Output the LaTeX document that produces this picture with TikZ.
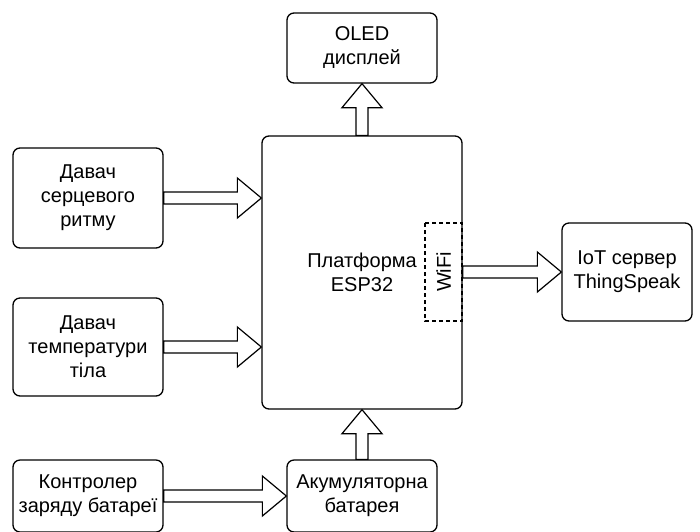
\documentclass[tikz,border=0pt]{standalone}
\usepackage{fontspec}
\setmainfont{Liberation Sans}
\usetikzlibrary{calc}

\newcommand*{\shaftw}{6pt}
\newcommand*{\headw}{20pt}
\newcommand*{\headl}{24pt}

% hollow block arrow from #1 to #2
\newcommand*{\blockarrow}[2]{%
	\coordinate (hb) at ($(#2)!\headl!(#1)$);
	\draw[fatarrow]
		($(#1)!\shaftw!90:(#2)$) -- ($(hb)!\shaftw!90:(#2)$) -- ($(hb)!\headw!90:(#2)$) -- (#2)
		-- ($(hb)!\headw!-90:(#2)$) -- ($(hb)!\shaftw!-90:(#2)$) -- ($(#1)!\shaftw!-90:(#2)$) -- cycle;%
}

\begin{document}
\begin{tikzpicture}
[
	x=1pt, y=-1pt,
	blockbox/.style={draw,rounded corners=7pt,line width=1.3pt,inner sep=0pt,align=center,
		font=\fontsize{20}{24}\selectfont},
	wifibox/.style={draw,dashed,dash pattern=on 4pt off 3pt,line width=1.1pt,inner sep=0pt,rotate=90,
		minimum width=98pt,minimum height=37pt,font=\fontsize{20}{24}\selectfont},
	fatarrow/.style={draw,fill=white,line width=1.2pt,line join=miter}
]

	\path[use as bounding box,fill=white] (0,0) rectangle (700,531);

	% blocks
	\node[blockbox,minimum width=200pt,minimum height=273pt] (esp) at (362,272.5) {Платформа\\ESP32};
	\node[blockbox,minimum width=150pt,minimum height=70pt] (oled) at (362,48) {OLED\\дисплей};
	\node[blockbox,minimum width=150pt,minimum height=100pt] (heart) at (88,198) {Давач\\серцевого\\ритму};
	\node[blockbox,minimum width=150pt,minimum height=98pt] (temp) at (88,347) {Давач\\температури\\тіла};
	\node[blockbox,minimum width=130pt,minimum height=98pt] (iot) at (627,272) {IoT сервер\\ThingSpeak};
	\node[blockbox,minimum width=150pt,minimum height=72pt] (charger) at (88,496) {Контролер\\заряду батареї};
	\node[blockbox,minimum width=150pt,minimum height=72pt] (battery) at (362,496) {Акумуляторна\\батарея};

	% wifi module
	\node[wifibox] (wifi) at (443.5,272) {WiFi};

	% connections
	\coordinate (espheart) at (esp.west |- heart.east);
	\coordinate (esptemp) at (esp.west |- temp.east);
	\coordinate (espwifi) at (esp.east |- iot.west);

	\blockarrow{heart.east}{espheart}
	\blockarrow{temp.east}{esptemp}
	\blockarrow{espwifi}{iot.west}
	\blockarrow{esp.north}{oled.south}
	\blockarrow{battery.north}{esp.south}
	\blockarrow{charger.east}{battery.west}

\end{tikzpicture}
\end{document}
